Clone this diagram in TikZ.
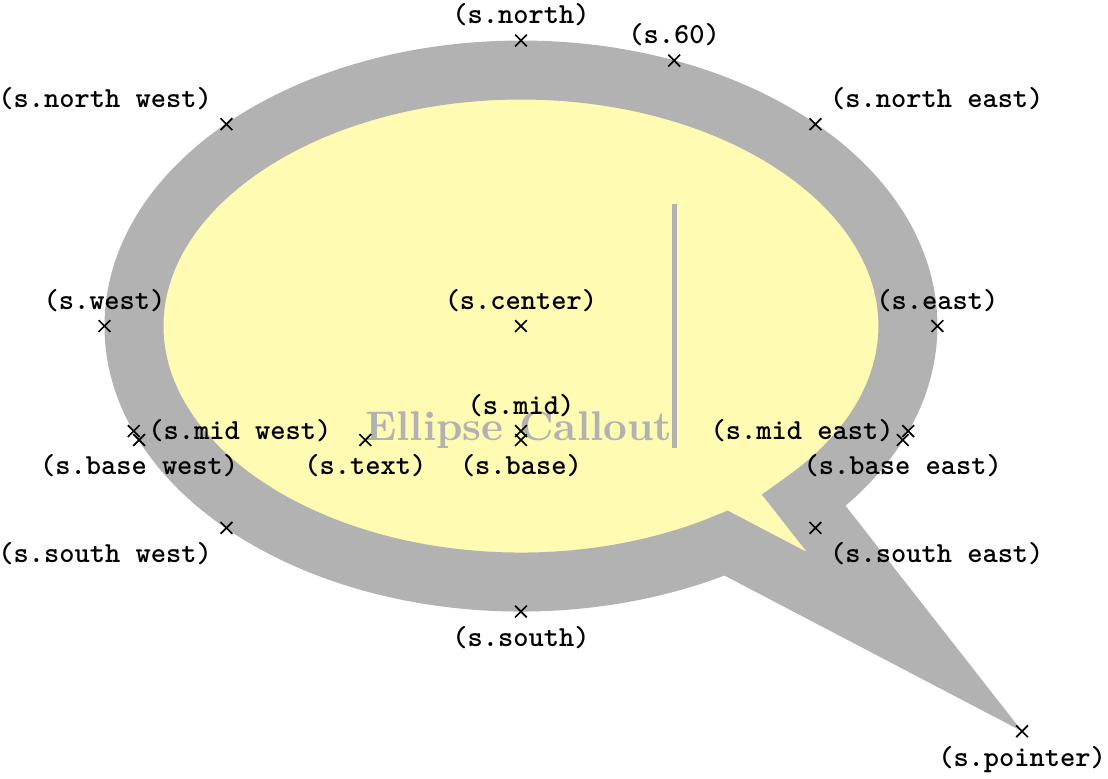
\documentclass[tikz,border=0pt]{standalone}
\usetikzlibrary{shapes.callouts}
\tikzset{
  shape example/.style={color=black!30,draw,fill=yellow!30,line width=.5cm,inner xsep=1cm,inner ysep=0.5cm,font=\bfseries},
  anchorlabel/.style={font=\scriptsize\ttfamily\bfseries,text=black}
}
\begin{document}
\begin{tikzpicture}
  \useasboundingbox (-4.415,-3.831) rectangle (4.975,2.763);
  \node [name=s,shape=ellipse callout,style=shape example,callout absolute pointer={(3.335,-2.675)}] at (0,0) {Ellipse Callout\vrule width 1pt height 2cm};
  \foreach \anchor/\placement in
    {north west/above left, north/above, north east/above right,
     west/above, center/above, east/above,
     mid west/right, mid/above, mid east/left,
     base west/below, base/below, base east/below,
     south west/below left, south/below, south east/below right,
     text/below, 60/above, pointer/below}
     \draw[shift=(s.\anchor)] plot[mark=x] coordinates{(0,0)}
       node[\placement,anchorlabel] {(s.\anchor)};
\end{tikzpicture}
\end{document}
